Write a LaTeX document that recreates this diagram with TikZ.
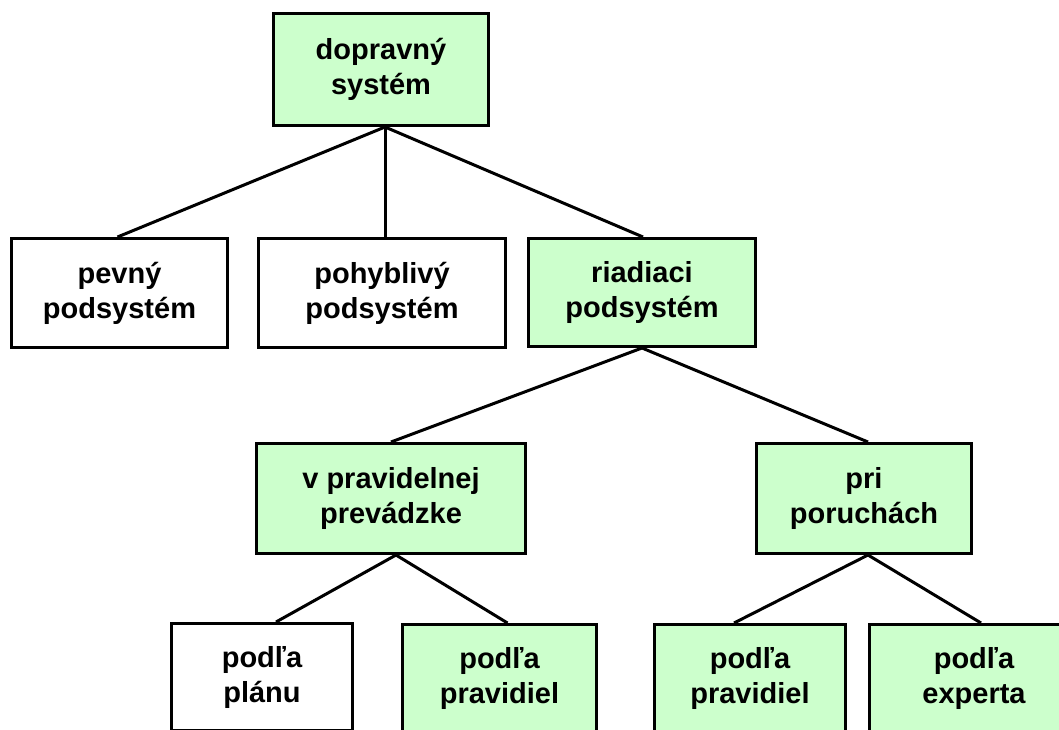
\documentclass[tikz,border=0pt]{standalone}
\usepackage{fontspec}
\setmainfont{Liberation Sans}
\definecolor{boxgreen}{RGB}{204,255,204}

\begin{document}
\begin{tikzpicture}[x=1pt, y=-1pt]
\clip (0,0) rectangle (1059,730);

\begin{scope}[every node/.style={rectangle, draw, line width=3pt, align=center, inner sep=0pt, font=\fontsize{29}{35}\selectfont\bfseries}]
\node (doprava) at (381, 69.5) [fill=boxgreen, minimum width=215pt, minimum height=112pt] {dopravný\\systém};
\node (pevny) at (119.5, 293) [minimum width=216pt, minimum height=109pt] {pevný\\podsystém};
\node (pohyb) at (382, 293) [minimum width=247pt, minimum height=109pt] {pohyblivý\\podsystém};
\node (riad) at (642, 292.5) [fill=boxgreen, minimum width=227pt, minimum height=108pt] {riadiaci\\podsystém};
\node (vprav) at (391, 498.5) [fill=boxgreen, minimum width=269pt, minimum height=110pt] {v pravidelnej\\prevádzke};
\node (pri) at (864, 498.5) [fill=boxgreen, minimum width=215pt, minimum height=110pt] {pri\\poruchách};
\node (plan) at (262, 677) [minimum width=181pt, minimum height=107pt] {podľa\\plánu};
\node (prav1) at (499.5, 678) [fill=boxgreen, minimum width=194pt, minimum height=107pt] {podľa\\pravidiel};
\node (prav2) at (750, 678) [fill=boxgreen, minimum width=191pt, minimum height=107pt] {podľa\\pravidiel};
\node (expert) at (974, 678) [fill=boxgreen, minimum width=209pt, minimum height=107pt] {podľa\\experta};
\end{scope}
\begin{scope}[line width=3pt]
\draw ([xshift=4pt]doprava.south) -- ([xshift=-2pt]pevny.north);
\draw ([xshift=4pt]doprava.south) -- ([xshift=3pt]pohyb.north);
\draw ([xshift=4pt]doprava.south) -- ([xshift=1pt]riad.north);
\draw (riad.south) -- (vprav.north);
\draw (riad.south) -- ([xshift=4pt]pri.north);
\draw ([xshift=5pt]vprav.south) -- ([xshift=14pt]plan.north);
\draw ([xshift=5pt]vprav.south) -- ([xshift=8pt]prav1.north);
\draw ([xshift=4pt]pri.south) -- ([xshift=-16pt]prav2.north);
\draw ([xshift=4pt]pri.south) -- ([xshift=7pt]expert.north);
\end{scope}

\end{tikzpicture}
\end{document}
